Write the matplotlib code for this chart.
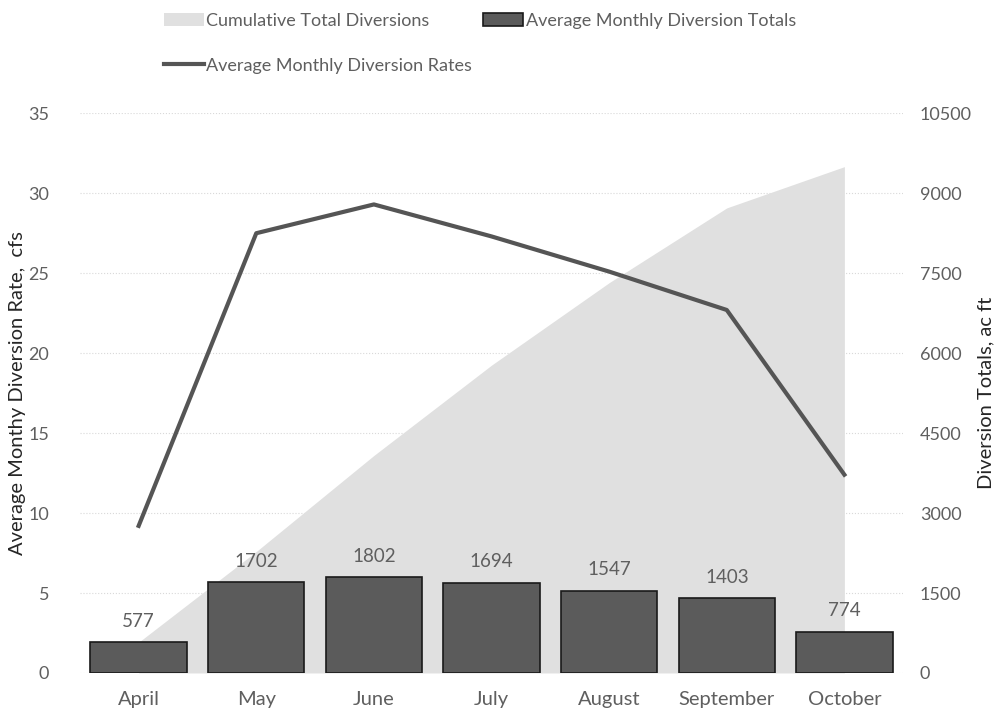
import matplotlib
matplotlib.use("Agg")
import matplotlib.pyplot as plt
import numpy as np

months = ["April", "May", "June", "July", "August", "September", "October"]
monthly_totals = [577, 1702, 1802, 1694, 1547, 1403, 774]        # ac ft
cumulative_totals = [577, 2279, 4081, 5775, 7322, 8725, 9499]    # ac ft
monthly_rates = [9.2, 27.5, 29.3, 27.3, 25.1, 22.7, 12.4]        # cfs

plt.rcParams["font.family"] = ["Lato", "DejaVu Sans"]

TEXT = "#5f5f5f"


def main():
  fig = plt.figure(figsize=(9.98, 7.17), dpi=100)
  ax = fig.add_axes([0.080, 0.0614, 0.825, 0.7806])
  ax2 = ax.twinx()

  x = np.arange(len(months))

  # totals go on the right axis, behind the rate line
  area = ax2.fill_between(x, 0, cumulative_totals, color="#e0e0e0", lw=0,
                          zorder=1)
  bars = ax2.bar(x, monthly_totals, width=0.82, color="#5b5b5b",
                 edgecolor="#1a1a1a", linewidth=1.2, zorder=2)
  for rect, val in zip(bars, monthly_totals):
    ax2.text(rect.get_x() + rect.get_width() / 2, val + 230, str(val),
             ha="center", va="bottom", fontsize=13.5, color=TEXT)

  line, = ax.plot(x, monthly_rates, color="#555555", lw=3)

  ax.set_zorder(ax2.get_zorder() + 1)
  ax.patch.set_visible(False)

  ax.set_xlim(-0.5, len(months) - 0.5)
  ax.set_ylim(0, 35)
  ax.set_yticks(np.arange(0, 36, 5))
  ax2.set_ylim(0, 10500)
  ax2.set_yticks(np.arange(0, 10501, 1500))

  ax2.grid(axis="y", color="#d9d9d9", ls=":", lw=0.8, zorder=0)
  ax2.set_axisbelow(True)

  ax.set_xticks(x)
  ax.set_xticklabels(months)
  for a in (ax, ax2):
    for s in a.spines.values():
      s.set_visible(False)
    a.tick_params(length=0, labelsize=13, colors=TEXT)
  ax.tick_params(axis="x", labelsize=14.5, pad=13)
  ax.tick_params(axis="y", pad=22)
  ax2.tick_params(axis="y", pad=12)

  ax.set_ylabel("Average Monthy Diversion Rate,  cfs", fontsize=14.5,
                color="#262626", labelpad=2)
  ax2.set_ylabel("Diversion Totals, ac ft", fontsize=14.5, color="#262626",
                 labelpad=4)

  # column-major order gives: row 1 = area, bars; row 2 = line
  fig.legend([area, line, bars],
             ["Cumulative Total Diversions", "Average Monthly Diversion Rates",
              "Average Monthly Diversion Totals"],
             loc="upper left", bbox_to_anchor=(0.148, 1.005),
             ncol=2, frameon=False, fontsize=13, labelcolor=TEXT,
             handlelength=2.2, handletextpad=0.15, columnspacing=0.6,
             labelspacing=1.6)

  fig.savefig("out.png", dpi=100)


if __name__ == "__main__":
  main()
